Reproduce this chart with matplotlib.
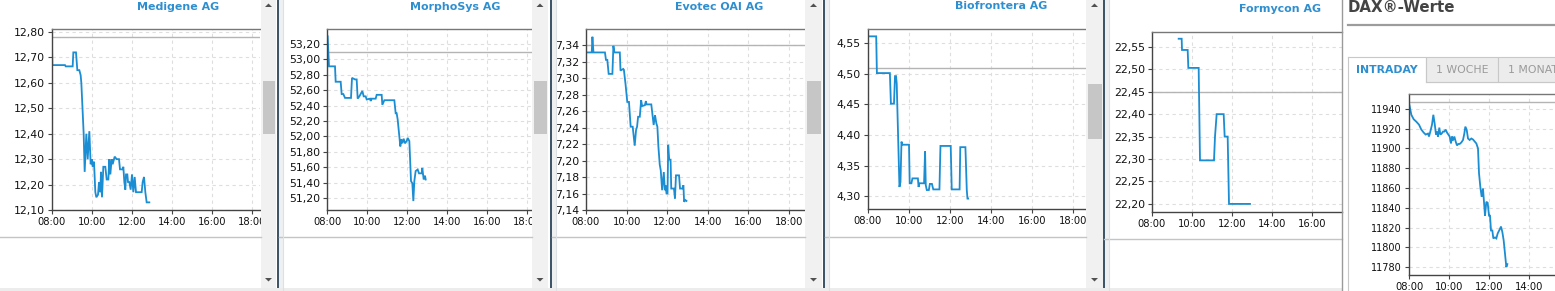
import matplotlib
matplotlib.use("Agg")
import matplotlib.pyplot as plt
from matplotlib.patches import Rectangle, Polygon
from matplotlib.ticker import FuncFormatter, FixedLocator

W, H = 1555, 291
LINE_C = "#1b8dd2"
TITLE_C = "#2e8fd0"

# ---- values ----
titles = ["Medigene AG", "MorphoSys AG", "Evotec OAI AG", "Biofrontera AG", "Formycon AG"]

medigene_t = ["08:00", "08:01", "08:39", "08:41", "09:02", "09:04", "09:12", "09:16", "09:22", "09:26",
              "09:28", "09:35", "09:38", "09:43", "09:47", "09:52", "09:56", "09:59", "10:02", "10:06",
              "10:10", "10:13", "10:18", "10:21", "10:25", "10:27", "10:30", "10:34", "10:40", "10:44",
              "10:49", "10:52", "10:55", "10:59", "11:02", "11:08", "11:14", "11:21", "11:24", "11:32",
              "11:34", "11:37", "11:40", "11:42", "11:46", "11:48", "11:52", "11:56", "12:00", "12:04",
              "12:08", "12:12", "12:29", "12:32", "12:36", "12:40", "12:44", "12:52"]
medigene_p = [12.76, 12.67, 12.67, 12.665, 12.665, 12.72, 12.72, 12.65, 12.65, 12.63,
              12.60, 12.40, 12.25, 12.40, 12.30, 12.41, 12.28, 12.30, 12.27, 12.29,
              12.17, 12.15, 12.16, 12.21, 12.17, 12.25, 12.15, 12.27, 12.27, 12.22,
              12.22, 12.30, 12.24, 12.30, 12.28, 12.31, 12.30, 12.30, 12.26, 12.26,
              12.27, 12.21, 12.18, 12.24, 12.24, 12.21, 12.21, 12.18, 12.24, 12.17,
              12.23, 12.17, 12.17, 12.21, 12.23, 12.17, 12.13, 12.13]

morpho_t = ["08:02", "08:06", "08:24", "08:26", "08:41", "08:44", "08:49", "08:54", "09:12", "09:15",
            "09:24", "09:29", "09:32", "09:37", "09:46", "09:50", "09:56", "09:59", "10:09", "10:11",
            "10:14", "10:26", "10:29", "10:44", "10:46", "10:52", "11:22", "11:26", "11:29", "11:32",
            "11:40", "11:43", "11:46", "11:50", "11:54", "11:59", "12:02", "12:07", "12:12", "12:16",
            "12:19", "12:22", "12:26", "12:32", "12:36", "12:44", "12:46", "12:50", "12:54", "12:56"]
morpho_p = [53.30, 52.91, 52.91, 52.71, 52.71, 52.55, 52.55, 52.50, 52.50, 52.76,
            52.74, 52.74, 52.49, 52.52, 52.59, 52.52, 52.52, 52.48, 52.49, 52.46,
            52.49, 52.49, 52.54, 52.54, 52.41, 52.47, 52.47, 52.30, 52.30, 52.22,
            51.87, 51.96, 51.91, 51.97, 51.91, 51.94, 51.98, 51.94, 51.42, 51.39,
            51.16, 51.42, 51.55, 51.57, 51.52, 51.52, 51.59, 51.44, 51.49, 51.44]

evotec_t = ["08:02", "08:17", "08:19", "08:22", "08:56", "08:59", "09:03", "09:07", "09:18", "09:21",
            "09:24", "09:40", "09:42", "09:50", "09:52", "09:57", "10:02", "10:07", "10:12", "10:18",
            "10:24", "10:28", "10:31", "10:34", "10:39", "10:43", "10:46", "10:54", "10:57", "10:59",
            "11:13", "11:15", "11:20", "11:24", "11:28", "11:31", "11:34", "11:38", "11:41", "11:45",
            "11:50", "11:53", "11:55", "11:58", "12:01", "12:03", "12:06", "12:10", "12:12", "12:20",
            "12:23", "12:26", "12:35", "12:38", "12:45", "12:48", "12:50", "12:54", "12:57"]
evotec_p = [7.331, 7.331, 7.350, 7.331, 7.331, 7.322, 7.322, 7.305, 7.305, 7.339,
            7.331, 7.331, 7.309, 7.311, 7.310, 7.292, 7.271, 7.271, 7.241, 7.241,
            7.218, 7.237, 7.241, 7.253, 7.253, 7.273, 7.266, 7.267, 7.272, 7.268,
            7.268, 7.261, 7.243, 7.255, 7.245, 7.241, 7.217, 7.195, 7.188, 7.164,
            7.186, 7.164, 7.170, 7.160, 7.160, 7.219, 7.201, 7.201, 7.166, 7.166,
            7.154, 7.182, 7.182, 7.166, 7.166, 7.170, 7.150, 7.152, 7.151]

biofr_t = ["08:00", "08:24", "08:26", "09:04", "09:07", "09:16", "09:19", "09:22", "09:24", "09:32",
           "09:35", "09:38", "09:40", "10:00", "10:02", "10:07", "10:10", "10:26", "10:28", "10:30",
           "10:44", "10:47", "10:49", "10:52", "10:58", "11:01", "11:07", "11:11", "11:29", "11:32",
           "12:02", "12:05", "12:28", "12:30", "12:45", "12:49", "12:51", "12:53"]
biofr_p = [4.561, 4.561, 4.501, 4.501, 4.451, 4.451, 4.496, 4.496, 4.484, 4.315,
           4.323, 4.389, 4.384, 4.384, 4.321, 4.321, 4.329, 4.329, 4.315, 4.321,
           4.321, 4.373, 4.318, 4.310, 4.310, 4.320, 4.320, 4.311, 4.311, 4.382,
           4.382, 4.311, 4.311, 4.380, 4.380, 4.310, 4.296, 4.296]

formy_t = ["09:20", "09:29", "09:30", "09:47", "09:49", "10:20", "10:24", "11:06", "11:09", "11:14",
           "11:35", "11:38", "11:47", "11:51", "12:54"]
formy_p = [22.568, 22.568, 22.543, 22.543, 22.503, 22.503, 22.297, 22.297, 22.35, 22.40,
           22.40, 22.35, 22.35, 22.20, 22.20]

dax_t = ["08:00", "08:07", "08:14", "08:22", "08:30", "08:37", "08:44", "08:50", "08:57", "09:00",
         "09:04", "09:09", "09:13", "09:17", "09:21", "09:24", "09:27", "09:31", "09:34", "09:38",
         "09:42", "09:46", "09:50", "09:54", "09:58", "10:02", "10:06", "10:09", "10:12", "10:16",
         "10:20", "10:24", "10:28", "10:32", "10:37", "10:42", "10:46", "10:49", "10:53", "10:57",
         "11:02", "11:07", "11:12", "11:17", "11:22", "11:27", "11:30", "11:34", "11:38", "11:42",
         "11:46", "11:48", "11:52", "11:56", "12:00", "12:03", "12:06", "12:10", "12:13", "12:18",
         "12:22", "12:26", "12:32", "12:36", "12:40", "12:44", "12:48", "12:52", "12:55"]
dax_p = [11946, 11934, 11929.5, 11927, 11924, 11919, 11916, 11914, 11915, 11912,
         11917, 11924, 11934, 11925, 11914, 11917, 11912, 11921, 11914, 11915,
         11917, 11917, 11919, 11916, 11914, 11912, 11905, 11912, 11908, 11912,
         11907, 11903, 11904.5, 11904.5, 11906, 11908.5, 11915, 11922, 11919, 11910,
         11908.5, 11910, 11909, 11907, 11905, 11900, 11875, 11861, 11851, 11859.5,
         11841, 11832, 11846, 11845, 11832, 11832, 11817, 11817, 11809, 11810,
         11809, 11814, 11818, 11821, 11815.5, 11807, 11793.5, 11780, 11783]

prev_close = [12.78, 53.10, 7.34, 4.51, 22.45, 11947]
ytick_spec = [(12.10, 12.80, 0.10), (51.20, 53.20, 0.20), (7.14, 7.34, 0.02),
              (4.30, 4.55, 0.05), (22.20, 22.55, 0.05), (11780, 11940, 20)]
series = [(medigene_t, medigene_p), (morpho_t, morpho_p), (evotec_t, evotec_p),
          (biofr_t, biofr_p), (formy_t, formy_p), (dax_t, dax_p)]

# ---- layout (pixels) ----
ax_box = [(52, 260, 29, 210), (327, 532, 29, 210), (586, 805, 29, 210),
          (868, 1086, 29, 209), (1152, 1342, 32, 212), (1409, 1555, 94, 275)]
x_max = [18.4, 18.25, 18.79, 18.63, 17.5, 15.3]
y_lim = [(12.10, 12.812), (51.044, 53.395), (7.14, 7.3594),
         (4.279, 4.573), (22.182, 22.583), (11772, 11955)]
title_pos = [(178, 7), (455, 7), (719, 7), (1001, 6), (1280, 9)]
scrollbars = [(261, 276, 81, 134), (532, 548, 81, 134), (805, 822, 81, 134), (1086, 1103, 84, 139)]
separators = [277, 550, 823, 1103]
rules = [(0, 261, 237), (279, 532, 237), (552, 805, 237), (825, 1086, 237), (1104, 1342, 239)]


def hours(ts):
    return [int(s[:2]) + int(s[3:]) / 60 for s in ts]


def fig_rect(l, r, t, b):
    return [l / W, 1 - b / H, (r - l) / W, (b - t) / H]


fig = plt.figure(figsize=(W / 100, H / 100), dpi=100)
fig.patch.set_facecolor("white")

for i, (ts, ps) in enumerate(series):
    ax = fig.add_axes(fig_rect(*ax_box[i]), zorder=5)
    x = hours(ts)
    ax.plot(x, ps, color=LINE_C, lw=1.3, solid_joinstyle="miter")
    ax.axhline(prev_close[i], color="#b4b4b4", lw=1.0, zorder=1)
    ax.set_xlim(8, x_max[i])
    ax.set_ylim(*y_lim[i])
    lo, hi, st = ytick_spec[i]
    n = int(round((hi - lo) / st))
    ax.yaxis.set_major_locator(FixedLocator([lo + k * st for k in range(n + 1)]))
    ax.xaxis.set_major_locator(FixedLocator(list(range(8, 24, 2))))
    if i < 5:
        ax.yaxis.set_major_formatter(FuncFormatter(lambda v, p: f"{v:.2f}".replace(".", ",")))
        ysize = 7.8
    else:
        ax.yaxis.set_major_formatter(FuncFormatter(lambda v, p: f"{v:.0f}"))
        ysize = 7.0
    ax.xaxis.set_major_formatter(FuncFormatter(lambda v, p: f"{int(round(v)):02d}:00"))
    ax.grid(True, color="#dedede", lw=0.8, ls=(0, (3, 3)))
    ax.set_axisbelow(True)
    ax.tick_params(axis="y", length=3, width=0.8, color="#444", labelsize=ysize, pad=2, labelcolor="#111")
    ax.tick_params(axis="x", length=3, width=0.8, color="#444", labelsize=7.2, pad=2, labelcolor="#111")
    ax.spines["right"].set_visible(False)
    for s in ("left", "bottom"):
        ax.spines[s].set_color("#444")
        ax.spines[s].set_linewidth(1.0)
    ax.spines["top"].set_color("#777")
    ax.spines["top"].set_linewidth(1.0)
    if i < 5:
        tx, ty = title_pos[i]
        fig.text(tx / W, 1 - ty / H, titles[i], ha="center", va="center",
                 fontsize=7.9, fontweight="bold", color=TITLE_C)

# ---- page furniture drawn on top (scrollbars, borders, tabs) ----
fg = fig.add_axes([0, 0, 1, 1], zorder=20)
fg.set_xlim(0, W)
fg.set_ylim(H, 0)
fg.axis("off")
fg.patch.set_alpha(0)

for l, r, y in rules:
    fg.plot([l, r], [y, y], color="#c4c4c4", lw=1.0)

for l, r, tt, tb in scrollbars:
    fg.add_patch(Rectangle((l, 0), r - l, H, color="#f1f1f1", lw=0))
    fg.add_patch(Rectangle((l + 1.5, tt), r - l - 3, tb - tt, color="#c6c6c6", lw=0))
    cx = (l + r) / 2
    fg.add_patch(Polygon([(cx - 3.5, 7), (cx + 3.5, 7), (cx, 3.5)], color="#505050", lw=0))
    fg.add_patch(Polygon([(cx - 3.5, 278), (cx + 3.5, 278), (cx, 281.5)], color="#505050", lw=0))

for x in separators:
    fg.add_patch(Rectangle((x, 0), 2, H, color="#3f5568", lw=0))
    fg.add_patch(Rectangle((x + 2, 0), 4, H, color="#eef0f2", lw=0))
    fg.plot([x + 6, x + 6], [0, H], color="#dde1e5", lw=0.8)

# right border of Formycon panel / left edge of the DAX panel
fg.plot([1342, 1342], [0, H], color="#9a9a9a", lw=1.0)
fg.add_patch(Rectangle((0, 288), 1342, 3, color="#ececec", lw=0))

# DAX heading and tabs
fg.text(1348, 8, "DAX\u00ae-Werte", ha="left", va="center", fontsize=10.8,
        fontweight="bold", color="#444444")
fg.plot([1348, W], [25, 25], color="#9c9c9c", lw=1.6)
fg.add_patch(Rectangle((1426, 57), 72, 25, facecolor="#ececec", edgecolor="#c8c8c8", lw=0.8))
fg.add_patch(Rectangle((1498, 57), 70, 25, facecolor="#ececec", edgecolor="#c8c8c8", lw=0.8))
fg.plot([1348, 1426, 1426], [57, 57, 82], color="#c8c8c8", lw=0.8)
fg.plot([1348, 1348], [57, H], color="#c8c8c8", lw=0.8)
fg.plot([1426, W], [82, 82], color="#c8c8c8", lw=0.8)
fg.text(1387, 70, "INTRADAY", ha="center", va="center", fontsize=7.8,
        fontweight="bold", color=TITLE_C)
fg.text(1462, 70, "1 WOCHE", ha="center", va="center", fontsize=7.8, color="#9a9a9a")
fg.text(1508, 70, "1 MONAT", ha="left", va="center", fontsize=7.8, color="#9a9a9a")

fig.savefig("out.png", dpi=100)
